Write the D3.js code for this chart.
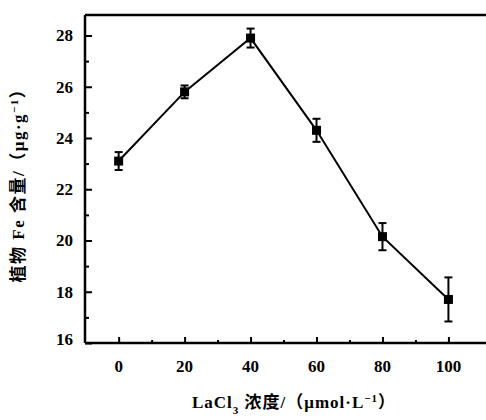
<!DOCTYPE html>
<html>
<head>
<meta charset="utf-8">
<script src="https://cdn.jsdelivr.net/npm/d3@7"></script>
<style>
  body { margin: 0; background: #fff; }
  text { font-family: "Liberation Serif", "Times New Roman", serif; font-weight: bold; }
  .cjk { font-family: "Liberation Serif", "Noto Sans CJK SC", serif; }
</style>
</head>
<body>
<div id="chart"></div>
<script>
const conc = [0, 20, 40, 60, 80, 100];
const feContent = [23.1, 25.8, 27.9, 24.3, 20.15, 17.7];
const feError = [0.35, 0.25, 0.37, 0.45, 0.53, 0.86];
const yTicks = [16, 18, 20, 22, 24, 26, 28];
const xTicks = [0, 20, 40, 60, 80, 100];

const W = 486;
const H = 420;
const margin = { top: 15, right: -2, bottom: 77, left: 85 };
const width = W - margin.left - margin.right;
const height = H - margin.top - margin.bottom;

const svg = d3.select('#chart').append('svg')
  .attr('width', W)
  .attr('height', H);

const g = svg.append('g')
  .attr('transform', `translate(${margin.left},${margin.top})`);

const xScale = d3.scaleLinear().domain([-10.2, 112]).range([0, width]);
const yScale = d3.scaleLinear().domain([16, 28.8]).range([height, 0]);

// minor ticks
const xAxis = d3.axisBottom(xScale)
  .tickValues(d3.range(0, 101, 10))
  .tickSize(-4)
  .tickFormat('');
const yAxis = d3.axisLeft(yScale)
  .tickValues(d3.range(16, 29, 1))
  .tickSize(-4)
  .tickFormat('');

const gx = g.append('g')
  .attr('transform', `translate(0,${height})`)
  .call(xAxis);
const gy = g.append('g').call(yAxis);

[gx, gy].forEach((ax) => {
  ax.select('.domain').remove();
  ax.selectAll('line').attr('stroke', '#000').attr('stroke-width', 2);
});
gy.selectAll('.tick line').attr('x2', (d) => (d % 2 === 0 ? 7 : 4));
gx.selectAll('.tick line').attr('y2', (d) => (d % 20 === 0 ? -6 : -3));

// frame
g.append('line').attr('x1', 0).attr('x2', 0).attr('y1', 0).attr('y2', height)
  .attr('stroke', '#000').attr('stroke-width', 2.5);
g.append('line').attr('x1', 0).attr('x2', width).attr('y1', height).attr('y2', height)
  .attr('stroke', '#000').attr('stroke-width', 2.5);
g.append('line').attr('x1', 0).attr('x2', width).attr('y1', 0).attr('y2', 0)
  .attr('stroke', '#000').attr('stroke-width', 2.5);

// tick labels
g.selectAll('.ylab')
  .data(yTicks)
  .enter()
  .append('text')
  .attr('x', -12)
  .attr('y', (d) => yScale(d) - (d === 16 ? 4 : 0))
  .attr('dy', '0.35em')
  .attr('text-anchor', 'end')
  .style('font-size', '17px')
  .text((d) => d);

g.selectAll('.xlab')
  .data(xTicks)
  .enter()
  .append('text')
  .attr('x', (d) => xScale(d))
  .attr('y', height + 29)
  .attr('text-anchor', 'middle')
  .style('font-size', '17px')
  .text((d) => d);

// line
const plotLine = d3.line()
  .x((d, i) => xScale(conc[i]))
  .y((d) => yScale(d));

g.append('path')
  .datum(feContent)
  .attr('d', plotLine)
  .style('fill', 'none')
  .style('stroke', '#000')
  .style('stroke-width', 2);

// error bars
const err = g.append('g').selectAll('g')
  .data(feContent)
  .enter()
  .append('g');

err.append('line')
  .attr('x1', (d, i) => xScale(conc[i]))
  .attr('x2', (d, i) => xScale(conc[i]))
  .attr('y1', (d, i) => yScale(d + feError[i]))
  .attr('y2', (d, i) => yScale(d - feError[i]))
  .attr('stroke', '#000')
  .attr('stroke-width', 2);

[1, -1].forEach((s) => {
  err.append('line')
    .attr('x1', (d, i) => xScale(conc[i]) - 4)
    .attr('x2', (d, i) => xScale(conc[i]) + 4)
    .attr('y1', (d, i) => yScale(d + s * feError[i]))
    .attr('y2', (d, i) => yScale(d + s * feError[i]))
    .attr('stroke', '#000')
    .attr('stroke-width', 2);
});

err.append('rect')
  .attr('x', (d, i) => xScale(conc[i]) - 4.5)
  .attr('y', (d) => yScale(d) - 4.5)
  .attr('width', 9)
  .attr('height', 9)
  .attr('fill', '#000');

// axis titles
svg.append('text')
  .attr('class', 'cjk')
  .attr('x', 294)
  .attr('y', 408)
  .attr('text-anchor', 'middle')
  .style('font-size', '17px')
  .style('letter-spacing', '1px')
  .html('LaCl<tspan baseline-shift="sub" font-size="11px">3</tspan> 浓度/（μmol·L<tspan baseline-shift="super" font-size="11px">−1</tspan>）');

svg.append('text')
  .attr('class', 'cjk')
  .attr('transform', 'translate(24,181) rotate(-90)')
  .attr('text-anchor', 'middle')
  .style('font-size', '17px')
  .style('letter-spacing', '1.5px')
  .html('植物 Fe 含量/（μg·g<tspan baseline-shift="super" font-size="11px">−1</tspan>）');
</script>
</body>
</html>
